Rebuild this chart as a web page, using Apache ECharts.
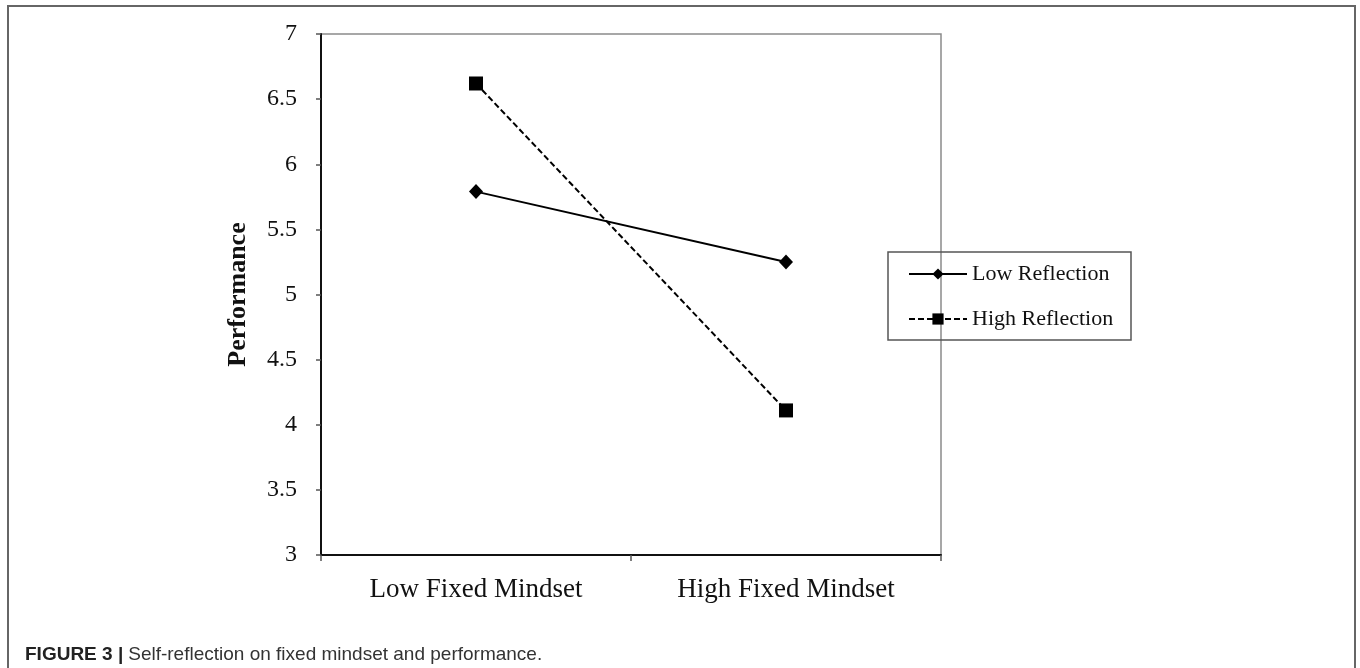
<!DOCTYPE html>
<html>
<head>
<meta charset="utf-8">
<script src="https://cdn.jsdelivr.net/npm/echarts@6/dist/echarts.min.js"></script>
<style>
html,body{margin:0;padding:0;background:#fff;}
#chart{width:1360px;height:668px;}
</style>
</head>
<body>
<div id="chart"></div>
<script>
const categories = ['Low Fixed Mindset', 'High Fixed Mindset'];
const lowReflection = [5.79, 5.25];
const highReflection = [6.62, 4.11];
const seriesNames = ['Low Reflection', 'High Reflection'];
const yTicks = { min: 3, max: 7, interval: 0.5 };
const axisTitle = 'Performance';
const captionBold = 'FIGURE 3 |';
const captionText = 'Self-reflection on fixed mindset and performance.';

const serif = '"Liberation Serif", "Times New Roman", serif';
const sans = '"Liberation Sans", Arial, sans-serif';
const chart = echarts.init(document.getElementById('chart'));
chart.setOption({
  animation: false,
  backgroundColor: '#fff',
  title: {
    left: 20, top: 640,
    text: '{b|' + captionBold + '} {n|' + captionText + '}',
    textStyle: {
      rich: {
        b: { fontFamily: sans, fontWeight: 'bold', fontSize: 19, color: '#222' },
        n: { fontFamily: sans, fontWeight: 'normal', fontSize: 19, color: '#333' }
      }
    }
  },
  grid: {
    left: 321, right: 419, top: 34, bottom: 113,
    show: true, borderColor: '#8a8a8a', borderWidth: 1.5, backgroundColor: 'transparent'
  },
  legend: {
    orient: 'vertical',
    left: 903, top: 258,
    itemWidth: 58, itemHeight: 14, itemGap: 23,
    data: seriesNames,
    textStyle: { fontFamily: serif, fontSize: 22, color: '#111', lineHeight: 20 }
  },
  xAxis: {
    type: 'category',
    data: categories,
    boundaryGap: true,
    axisLine: { lineStyle: { color: '#111', width: 2 } },
    axisTick: { show: true, length: 6, lineStyle: { color: '#555', width: 1.5 } },
    axisLabel: { fontFamily: serif, fontSize: 27, color: '#111', margin: 21 },
    splitLine: { show: false }
  },
  yAxis: {
    type: 'value',
    min: yTicks.min, max: yTicks.max, interval: yTicks.interval,
    name: axisTitle,
    nameLocation: 'middle',
    nameGap: 70,
    nameRotate: 90,
    nameTextStyle: { fontFamily: serif, fontSize: 26, fontWeight: 'bold', color: '#111' },
    axisLine: { show: true, lineStyle: { color: '#111', width: 2 } },
    axisTick: { show: true, length: 5, lineStyle: { color: '#555', width: 1.5 } },
    axisLabel: { fontFamily: serif, fontSize: 24, color: '#111', margin: 24 },
    splitLine: { show: false }
  },
  series: [
    {
      name: seriesNames[0], type: 'line', data: lowReflection,
      symbol: 'diamond', symbolSize: [14, 15],
      lineStyle: { color: '#000', width: 2, type: 'solid' },
      itemStyle: { color: '#000' }
    },
    {
      name: seriesNames[1], type: 'line', data: highReflection,
      symbol: 'rect', symbolSize: 14,
      lineStyle: { color: '#000', width: 2, type: [6, 3] },
      itemStyle: { color: '#000' }
    }
  ],
  graphic: [
    { type: 'rect', shape: { x: 8, y: 6, width: 1347, height: 700 }, style: { fill: 'none', stroke: '#666', lineWidth: 2 }, silent: true },
    { type: 'rect', shape: { x: 888, y: 252, width: 243, height: 88 }, style: { fill: 'none', stroke: '#555', lineWidth: 1.5 }, silent: true }
  ]
});
</script>
</body>
</html>
